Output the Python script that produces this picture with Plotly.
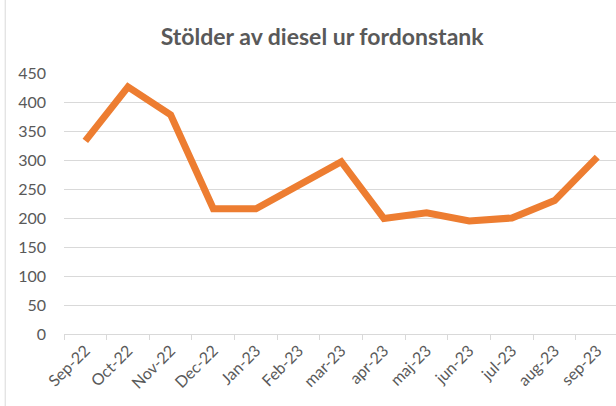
import plotly.graph_objects as go

months = ["Sep-22", "Oct-22", "Nov-22", "Dec-22", "Jan-23", "Feb-23", "mar-23",
          "apr-23", "maj-23", "jun-23", "jul-23", "aug-23", "sep-23"]
thefts = [333, 426, 378, 216, 216, 255, 297, 199, 209, 195, 200, 230, 305]
y_ticks = [0, 50, 100, 150, 200, 250, 300, 350, 400, 450]
title_text = "Stölder av diesel ur fordonstank"

FONT = "Lato"
GRAY = "#595959"

fig = go.Figure()
fig.add_trace(go.Scatter(
    x=months, y=thefts, mode="lines",
    line=dict(color="#ED7D31", width=7, shape="linear"),
    hoverinfo="x+y", showlegend=False,
))

fig.update_layout(
    width=616, height=406,
    margin=dict(l=64, r=0, t=73, b=72),
    paper_bgcolor="white", plot_bgcolor="white",
    title=dict(text="<b>" + title_text + "</b>", x=0.523, xanchor="center",
               y=0.91, yanchor="middle",
               font=dict(family=FONT, size=23, color=GRAY)),
    font=dict(family=FONT, color=GRAY),
    xaxis=dict(
        type="category", range=[-0.5, 12.44],
        showgrid=False, showline=True, linecolor="#d9d9d9", linewidth=1,
        ticks="outside", tickson="boundaries", ticklen=5, tickcolor="#d9d9d9",
        tickangle=-45, tickfont=dict(family=FONT, size=16, color=GRAY),
        zeroline=False,
    ),
    yaxis=dict(
        range=[0, 450], tickvals=y_ticks, showgrid=True, gridcolor="#d9d9d9",
        gridwidth=1, showline=False, zeroline=False, ticks="",
        ticklabelstandoff=17,
        tickfont=dict(family=FONT, size=16, color=GRAY),
    ),
    shapes=[dict(type="line", xref="paper", yref="paper", x0=-0.1065, x1=-0.1065,
                 y0=-0.3, y1=1.28, line=dict(color="#d9d9d9", width=1))],
)

fig.write_html("out.html", config={"displayModeBar": False},
               post_script="document.body.style.margin='0';document.body.style.overflow='hidden';")
